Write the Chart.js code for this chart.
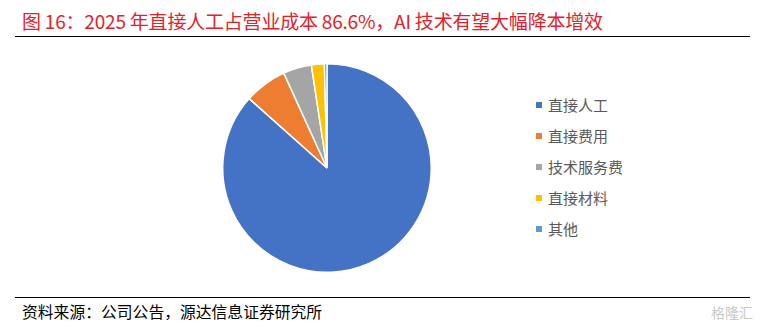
<!DOCTYPE html>
<html>
<head>
<meta charset="utf-8">
<script src="https://cdn.jsdelivr.net/npm/chart.js@4/dist/chart.umd.min.js"></script>
<style>
  body { margin: 0; width: 765px; height: 331px; background: #fff; position: relative; overflow: hidden;
         font-family: "Noto Sans CJK SC", "Noto Sans", sans-serif; }
  #title { position: absolute; left: 22px; top: 7px; font-size: 19px; color: #E2222B; white-space: nowrap; letter-spacing: -0.2px; }
  .rule { position: absolute; left: 15px; width: 735px; height: 1px; background: #000; }
  #chartBox { position: absolute; left: 217px; top: 58px; width: 220px; height: 220px; }
  #legend { position: absolute; left: 536px; top: 89px; }
  .item { height: 31px; display: flex; align-items: center; font-size: 15px; color: #595959; }
  .item span.sw { width: 6px; height: 6px; margin-right: 6px; }
  #source { position: absolute; left: 22px; top: 300px; font-size: 15.8px; color: #000; white-space: nowrap; }
  #mark { position: absolute; right: 12px; top: 302px; font-size: 14px; color: #c8c8c8; }
</style>
</head>
<body>
<div id="title">图 16：2025 年直接人工占营业成本 86.6%，AI 技术有望大幅降本增效</div>
<div class="rule" style="top:36px"></div>
<div id="chartBox"><canvas id="pie"></canvas></div>
<div id="legend"></div>
<div class="rule" style="top:297px"></div>
<div id="source">资料来源：公司公告，源达信息证券研究所</div>
<div id="mark">格隆汇</div>
<script>
  const categories = ["直接人工", "直接费用", "技术服务费", "直接材料", "其他"];
  const shares = [86.6, 6.6, 4.4, 2.0, 0.4];
  const colors = ["#4472C4", "#ED7D31", "#A5A5A5", "#FFC000", "#5B9BD5"];

  new Chart(document.getElementById("pie"), {
    type: "pie",
    data: {
      labels: categories,
      datasets: [{
        data: shares,
        backgroundColor: colors,
        borderColor: "#fff",
        borderWidth: 1.5
      }]
    },
    options: {
      responsive: true,
      maintainAspectRatio: false,
      animation: false,
      layout: { padding: 5 },
      plugins: { legend: { display: false }, tooltip: { enabled: false } }
    }
  });

  const legend = document.getElementById("legend");
  categories.forEach((name, i) => {
    const row = document.createElement("div");
    row.className = "item";
    row.innerHTML = '<span class="sw" style="background:' + colors[i] + '"></span>' + name;
    legend.appendChild(row);
  });
</script>
</body>
</html>
